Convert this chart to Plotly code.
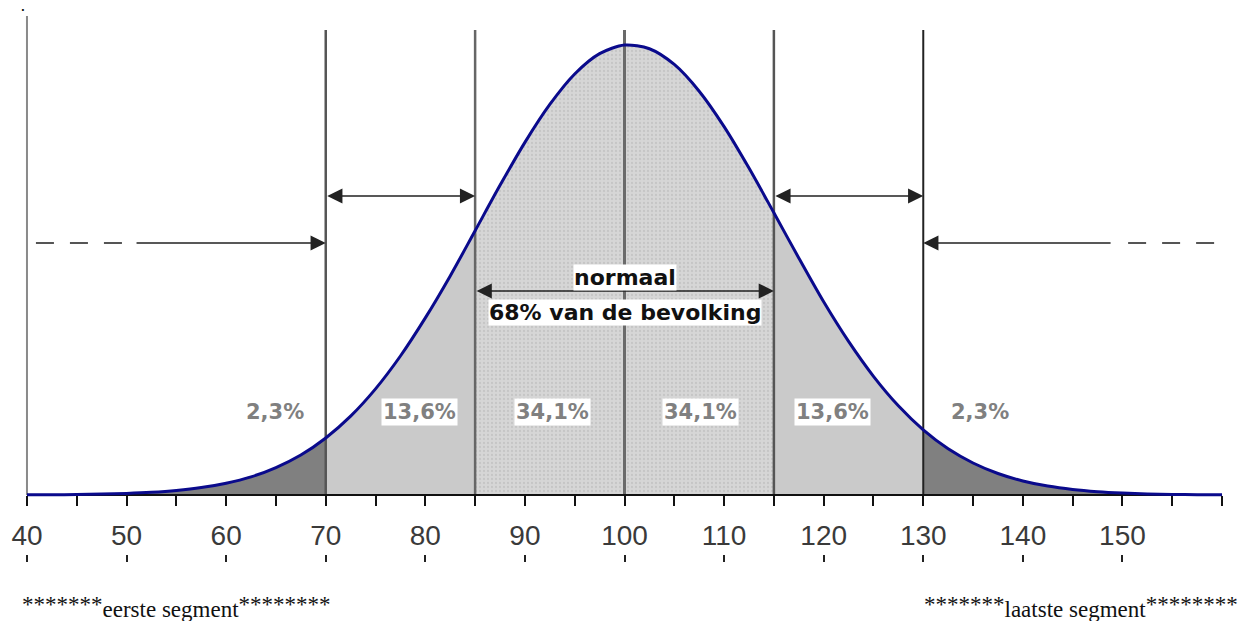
import plotly.graph_objects as go

# ---------------- data ----------------
iq = [40, 42.5, 45, 47.5, 50, 52.5, 55, 57.5, 60, 62.5, 65, 67.5, 70, 72.5, 75, 77.5,
      80, 82.5, 85, 87.5, 90, 92.5, 95, 97.5, 100, 102.5, 105, 107.5, 110, 112.5, 115,
      117.5, 120, 122.5, 125, 127.5, 130, 132.5, 135, 137.5, 140, 142.5, 145, 147.5,
      150, 152.5, 155, 157.5, 160]
# share of the population per IQ point (%)
density = [0.0008, 0.0015, 0.0028, 0.0052, 0.0092, 0.0159, 0.0268, 0.0437, 0.0696, 0.107,
           0.162, 0.236, 0.337, 0.466, 0.627, 0.821, 1.046, 1.294, 1.561, 1.829, 2.083,
           2.307, 2.487, 2.607, 2.658, 2.636, 2.543, 2.385, 2.176, 1.931, 1.667, 1.400,
           1.141, 0.907, 0.701, 0.527, 0.385, 0.273, 0.189, 0.127, 0.083, 0.0527, 0.0326,
           0.0196, 0.0115, 0.0065, 0.0036, 0.0020, 0.0010]

segment_edges = [40, 70, 85, 115, 130, 160]
boundaries = [40, 70, 85, 100, 115, 130]
pct_labels = ["2,3%", "13,6%", "34,1%", "34,1%", "13,6%", "2,3%"]
pct_label_x = [64.9, 79.4, 92.8, 107.6, 120.9, 135.7]
tick_vals = [40, 45, 50, 55, 60, 65, 70, 75, 80, 85, 90, 95, 100, 105, 110, 115, 120,
             125, 130, 135, 140, 145, 150, 155, 160]
tick_text = ["40", "", "50", "", "60", "", "70", "", "80", "", "90", "", "100", "", "110",
             "", "120", "", "130", "", "140", "", "150", "", ""]
minor_row_ticks = [40, 50, 60, 70, 80, 90, 100, 110, 120, 130, 140, 150]
normal_label = "normaal"
normal_share = "68% van de bevolking"
foot_left = ("*******", "eerste segment", "********")
foot_right = ("*******", "laatste segment", "********")

# ---------------- styling ----------------
X_RANGE = [39.5, 160.5]
K = 0.0059067            # data units per pixel vertically
Y_MIN, Y_MAX = -67 * K, 490 * K     # plot area spans px 5 .. 562, y=0 at px 495
AXIS_POS = 67 / 557
LINE_TOP = 465 * K
LEFT_TOP = 479 * K
ARROW_Y_HIGH = 299 * K
ARROW_Y_MID = 252 * K
ARROW_Y_LOW = 204 * K
PCT_Y = 83 * K

seg_styles = [
    dict(fillcolor="#808080"),
    dict(fillcolor="#cacaca"),
    dict(fillcolor="#d4d4d4",
         fillpattern=dict(shape=".", bgcolor="#d6d6d6", fgcolor="#b4b4b4", size=4, solidity=0.25)),
    dict(fillcolor="#cacaca"),
    dict(fillcolor="#808080"),
]
line_colors = ["#8a8a8a", "#555555", "#666666", "#6a6a6a", "#555555", "#222222"]
line_widths = [2, 2.5, 2.5, 3, 2.5, 2]

fig = go.Figure()

# filled segments
for i in range(len(segment_edges) - 1):
    a, b = segment_edges[i], segment_edges[i + 1]
    xs = [x for x in iq if a <= x <= b]
    ys = [d for x, d in zip(iq, density) if a <= x <= b]
    fig.add_trace(go.Scatter(x=xs, y=ys, mode="lines", fill="tozeroy",
                             line=dict(width=0, shape="spline", smoothing=0.8),
                             hoverinfo="skip", showlegend=False, **seg_styles[i]))

# vertical boundary lines
for j, bx in enumerate(boundaries):
    top = LEFT_TOP if j == 0 else LINE_TOP
    fig.add_trace(go.Scatter(x=[bx, bx], y=[0, top], mode="lines",
                             line=dict(color=line_colors[j], width=line_widths[j]),
                             hoverinfo="skip", showlegend=False))

# baseline
fig.add_trace(go.Scatter(x=[segment_edges[0], segment_edges[-1]], y=[0, 0], mode="lines",
                         line=dict(color="#111111", width=2), hoverinfo="skip", showlegend=False))

# curve
fig.add_trace(go.Scatter(x=iq, y=density, mode="lines",
                         line=dict(color="#0a0a8c", width=3, shape="spline", smoothing=0.8),
                         hoverinfo="skip", showlegend=False))

# invisible trace so the labelled axis (x2) is drawn
fig.add_trace(go.Scatter(x=[segment_edges[0]], y=[0], xaxis="x2", yaxis="y", mode="markers",
                         marker=dict(size=0.1, opacity=0), hoverinfo="skip", showlegend=False))

annotations = []
arrow_common = dict(text="", showarrow=True, axref="x", ayref="y", xref="x", yref="y",
                    arrowhead=2, arrowsize=1.9, arrowwidth=1.6, arrowcolor="#222222",
                    standoff=0, startstandoff=0)
# double arrows
for (x0, x1, yy) in [(70, 85, ARROW_Y_HIGH), (115, 130, ARROW_Y_HIGH), (85, 115, ARROW_Y_LOW)]:
    annotations.append(dict(x=x1, y=yy, ax=x0, ay=yy, arrowside="end+start",
                            startarrowhead=2, startarrowsize=1.9, **arrow_common))
# single arrows pointing at 70 and 130
annotations.append(dict(x=70, y=ARROW_Y_MID, ax=50.85, ay=ARROW_Y_MID, **arrow_common))
annotations.append(dict(x=130, y=ARROW_Y_MID, ax=148.96, ay=ARROW_Y_MID, **arrow_common))

shapes = [
    dict(type="line", xref="x", yref="y", x0=40.9, x1=50.85, y0=ARROW_Y_MID, y1=ARROW_Y_MID,
         line=dict(color="#555555", width=2, dash="18px,16px")),
    dict(type="line", xref="x", yref="y", x0=150.57, x1=159.3, y0=ARROW_Y_MID, y1=ARROW_Y_MID,
         line=dict(color="#555555", width=2, dash="18px,16px")),
]

bold_font = dict(family="DejaVu Sans", size=22, color="#111111", weight="bold")
annotations.append(dict(x=100, y=218 * K, xref="x", yref="y", text=f"<b>{normal_label}</b>",
                        showarrow=False, font=bold_font, bgcolor="white", borderpad=0))
annotations.append(dict(x=100, y=183 * K, xref="x", yref="y", text=f"<b>{normal_share}</b>",
                        showarrow=False, font=bold_font, bgcolor="white", borderpad=0))

for i, (lab, lx) in enumerate(zip(pct_labels, pct_label_x)):
    annotations.append(dict(x=lx, y=PCT_Y, xref="x", yref="y", text=f"<b>{lab}</b>",
                            showarrow=False,
                            font=dict(family="DejaVu Sans", size=21, color="#808080"),
                            bgcolor="white" if 0 < i < 5 else None, borderpad=1))


def foot(parts):
    a, mid, b = parts
    return f"{a}<sub><span style='font-size:23px'>{mid}</span></sub>{b}"


foot_font = dict(family="Liberation Serif", size=23, color="#111111")
annotations.append(dict(x=-0.0017, y=-0.0808, xref="paper", yref="paper", text=foot(foot_left),
                        showarrow=False, xanchor="left", yanchor="middle", font=foot_font))
annotations.append(dict(x=0.7469, y=-0.0808, xref="paper", yref="paper", text=foot(foot_right),
                        showarrow=False, xanchor="left", yanchor="middle", font=foot_font))
annotations.append(dict(x=0.0008, y=1.009, xref="paper", yref="paper", text="<b>.</b>",
                        showarrow=False, xanchor="center", yanchor="top",
                        font=dict(family="DejaVu Sans", size=10, color="#111111")))

fig.update_layout(
    width=1238, height=621,
    margin=dict(l=22, r=11, t=5, b=59),
    paper_bgcolor="white", plot_bgcolor="white",
    showlegend=False,
    # short ticks along the very bottom (second row under the labels)
    xaxis=dict(range=X_RANGE, showgrid=False, zeroline=False, showline=False,
               tickmode="array", tickvals=minor_row_ticks, showticklabels=False,
               ticks="inside", ticklen=7, tickwidth=1.5, tickcolor="#222222",
               fixedrange=True),
    # labelled axis at the baseline
    xaxis2=dict(range=X_RANGE, overlaying="x", anchor="free", position=AXIS_POS, side="bottom",
                showgrid=False, zeroline=False, showline=False,
                tickmode="array", tickvals=tick_vals, ticktext=tick_text,
                ticks="outside", ticklen=10, tickwidth=2, tickcolor="#111111",
                tickfont=dict(family="Liberation Sans", size=28, color="#3a3a3a"),
                ticklabelstandoff=5, fixedrange=True),
    yaxis=dict(range=[Y_MIN, Y_MAX], visible=False, fixedrange=True),
    annotations=annotations,
    shapes=shapes,
)

fig.write_html("out.html", config={"displayModeBar": False},
               post_script="document.body.style.margin='0';document.body.style.overflow='hidden';")
